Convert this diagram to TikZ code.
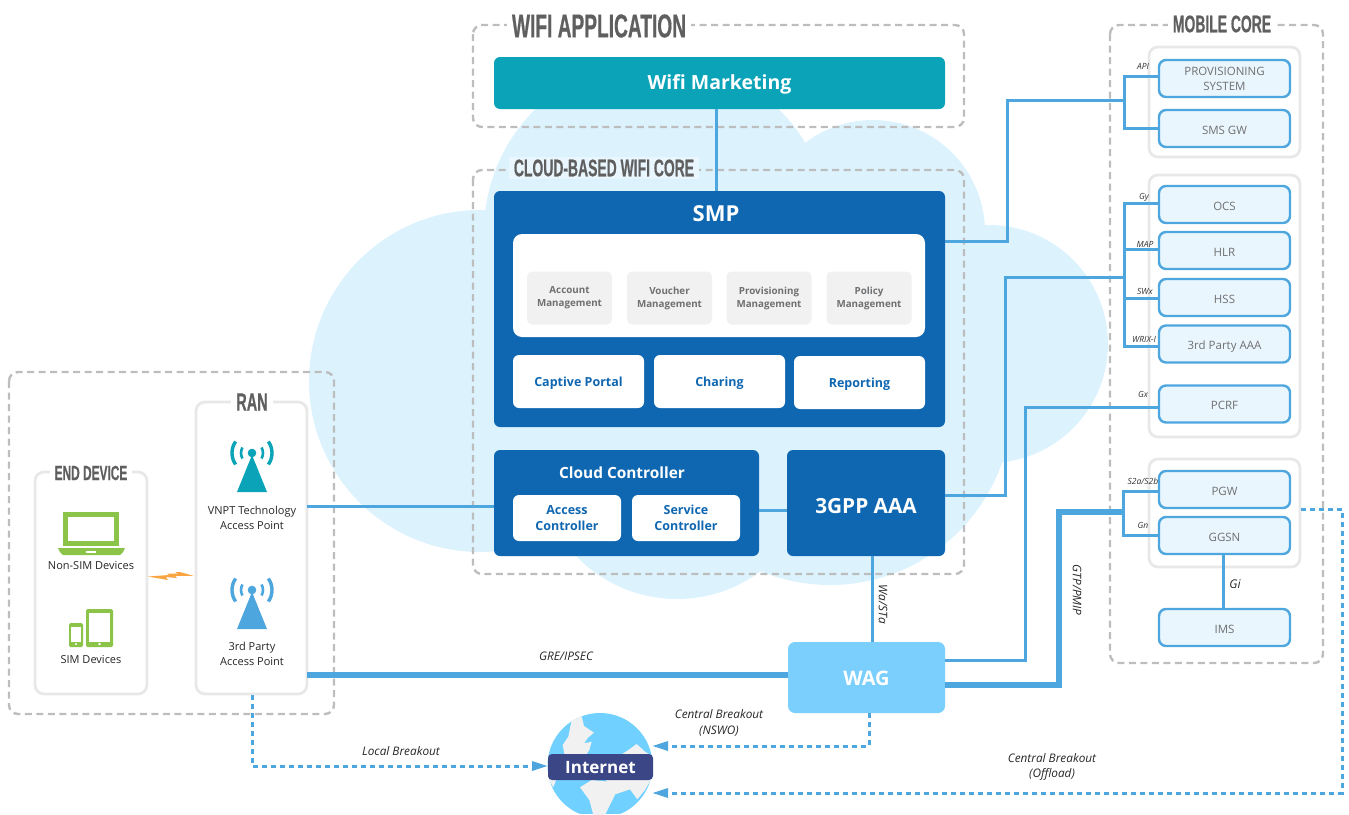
\documentclass[tikz,border=0pt]{standalone}
\usepackage{fontspec}
\setmainfont{Open Sans}
\newfontfamily\headfont[FakeStretch=0.58,FakeBold=0.5]{Liberation Sans}
\usetikzlibrary{arrows.meta}
\definecolor{cloudblue}{HTML}{DCF3FE}
\definecolor{dashgrey}{HTML}{BDBDBD}
\definecolor{framegrey}{HTML}{E8E8E8}
\definecolor{headgrey}{HTML}{5F5F5F}
\definecolor{textgrey}{HTML}{6F7072}
\definecolor{tealbar}{HTML}{0AA3B8}
\definecolor{smpblue}{HTML}{0F67B1}
\definecolor{linkblue}{HTML}{4DA6DE}
\definecolor{wagblue}{HTML}{7ACFFC}
\definecolor{paleblue}{HTML}{EAF6FD}
\definecolor{chipgrey}{HTML}{F1F1F1}
\definecolor{devgreen}{HTML}{8CC44A}
\definecolor{boltorange}{HTML}{F9A440}
\definecolor{globeblue}{HTML}{70D0FF}
\definecolor{inetblue}{HTML}{3B4686}
\begin{document}
\begin{tikzpicture}[
	x = 1pt, y = -1pt,
	every node/.style = {inner sep = 0, outer sep = 0, align = center},
	dashframe/.style = {draw = dashgrey, line width = 2.4, dash pattern = on 7pt off 4.5pt, rounded corners = 9},
	greyframe/.style = {draw = framegrey, line width = 2.8, fill = white, rounded corners = 9},
	headlabel/.style = {fill = white, text = headgrey, font = \headfont\bfseries\fontsize{#1}{#1}\selectfont, inner xsep = 5},
	oneline/.style = {text height = #1, text depth = 0},
	bluebox/.style = {fill = smpblue, text = white, rounded corners = 6},
	whitebox/.style = {fill = white, text = smpblue, rounded corners = 6, font = \bfseries\fontsize{12.5}{15.5}\selectfont},
	chip/.style = {fill = chipgrey, text = textgrey, rounded corners = 5, minimum width = 85, minimum height = 53, font = \bfseries\fontsize{9.8}{13}\selectfont},
	corebox/.style = {draw = linkblue, line width = 2.4, fill = paleblue, text = textgrey, rounded corners = 7, minimum width = 131, minimum height = 37, font = \fontsize{11.5}{15}\selectfont},
	link/.style = {draw = linkblue, line width = 3},
	thicklink/.style = {draw = linkblue, line width = 5.5},
	breakout/.style = {draw = linkblue, line width = 3, dash pattern = on 5pt off 4pt},
	breakarrow/.style = {breakout, -{Triangle[length = 16pt, width = 9pt]}},
	iface/.style = {font = \itshape\fontsize{8.5}{10}\selectfont, text = black!80},
	protolabel/.style = {font = \itshape\fontsize{11.8}{15.5}\selectfont, text = black!85},
	devlabel/.style = {font = \fontsize{11}{15}\selectfont, text = black!85}]

	\useasboundingbox (0,0) rectangle (1349,814);

	% cloud behind everything
	\foreach \cx/\cy/\cr in {657/232/173,873/232/112,989/344/119,480/381/171,677/459/140,830/403/182}{
		\fill[cloudblue] (\cx,\cy) circle[radius = \cr];
	}
	\fill[cloudblue] (480,210) rectangle (970,460);

	% outer frames
	\draw[dashframe] (473,25) rectangle (964,127);
	\draw[dashframe] (473,170) rectangle (964,574);
	\draw[dashframe] (1110,25) rectangle (1323,663);
	\draw[dashframe] (9,372) rectangle (334,714);
	\node[headlabel = 33] (wifititle) at (599,26) {WIFI APPLICATION};
	\node[headlabel = 24, fill = paleblue, inner ysep = 3] (coretitle) at (604,168) {CLOUD-BASED WIFI CORE};
	\node[headlabel = 24] (mobiletitle) at (1222,24) {MOBILE CORE};

	\draw[greyframe] (1149,47) rectangle (1300,157);
	\draw[greyframe] (1149,175) rectangle (1300,437);
	\draw[greyframe] (1149,459) rectangle (1300,567);
	\draw[greyframe] (196,402) rectangle (307,694);
	\draw[greyframe] (35,472) rectangle (147,694);
	\node[headlabel = 25] (rantitle) at (252,402) {RAN};
	\node[headlabel = 20.5] (endtitle) at (91,473) {END DEVICE};

	% wifi application and cloud core
	\node[fill = tealbar, text = white, rounded corners = 6, minimum width = 451, minimum height = 52, oneline = 12, font = \bfseries\fontsize{19.5}{24}\selectfont] (wifimkt) at (719.5,83) {Wifi Marketing};
	\node[bluebox, minimum width = 451, minimum height = 236] (smp) at (719.5,309) {};
	\node[text = white, font = \bfseries\fontsize{22}{26}\selectfont] (smptitle) at (716,214) {SMP};
	\node[fill = white, rounded corners = 9, minimum width = 412, minimum height = 103] (smpinner) at (719,285.5) {};
	\node[chip] (account) at (569.5,298) {Account\\Management};
	\node[chip] (voucher) at (669.5,298) {Voucher\\Management};
	\node[chip] (provision) at (769,298) {Provisioning\\Management};
	\node[chip] (policy) at (869,298) {Policy\\Management};
	\node[whitebox, minimum width = 131, minimum height = 53, oneline = 10] (captive) at (578.5,381.5) {Captive Portal};
	\node[whitebox, minimum width = 131, minimum height = 53, oneline = 10] (charing) at (719.5,381.5) {Charing};
	\node[whitebox, minimum width = 131, minimum height = 53, oneline = 10] (reporting) at (859.5,382.5) {Reporting};

	\node[bluebox, minimum width = 265, minimum height = 106] (controller) at (626.5,503) {};
	\node[text = white, font = \bfseries\fontsize{15.4}{18}\selectfont] (ctrltitle) at (622,472.5) {Cloud Controller};
	\node[whitebox, minimum width = 108, minimum height = 46] (access) at (567,518) {Access\\Controller};
	\node[whitebox, minimum width = 108, minimum height = 46] (service) at (686,518) {Service\\Controller};
	\node[bluebox, minimum width = 158, minimum height = 106, oneline = 20, font = \bfseries\fontsize{20.8}{24}\selectfont] (aaa) at (866,503) {3GPP AAA};
	\node[fill = wagblue, text = white, rounded corners = 7, minimum width = 157, minimum height = 71, oneline = 15, font = \bfseries\fontsize{20}{24}\selectfont] (wag) at (866.5,677.5) {WAG};

	% mobile core
	\node[corebox] (prov) at (1224.5,78.5) {\raisebox{-1.3pt}{PROVISIONING}\\\raisebox{-1.3pt}{SYSTEM}};
	\node[corebox, oneline = 11] (smsgw) at (1224.5,128.5) {SMS GW};
	\node[corebox, oneline = 11] (ocs) at (1224.5,204.5) {OCS};
	\node[corebox, oneline = 11] (hlr) at (1224.5,250.5) {HLR};
	\node[corebox, oneline = 11] (hss) at (1224.5,297.5) {HSS};
	\node[corebox, oneline = 11] (thirdaaa) at (1224.5,344) {3rd Party AAA};
	\node[corebox, oneline = 11] (pcrf) at (1224.5,404) {PCRF};
	\node[corebox, oneline = 11] (pgw) at (1224.5,489.5) {PGW};
	\node[corebox, oneline = 11] (ggsn) at (1224.5,535.5) {GGSN};
	\node[corebox, oneline = 11] (ims) at (1224.5,627.5) {IMS};

	% access points and devices
	\foreach \apx/\apy/\apcol in {252/453/tealbar,252/590/linkblue}{
		\fill[\apcol] (\apx,\apy) circle[radius = 4.3];
		\fill[\apcol] (\apx,\apy+2) -- (\apx+15,\apy+39) -- (\apx-15,\apy+39) -- cycle;
		\draw[\apcol,line width = 2.6] (\apx,\apy) ++(150:11) arc[start angle = 150, end angle = 210, radius = 11];
		\draw[\apcol,line width = 2.6] (\apx,\apy) ++(-30:11) arc[start angle = -30, end angle = 30, radius = 11];
		\draw[\apcol,line width = 3.4] (\apx,\apy) ++(145:20) arc[start angle = 145, end angle = 215, radius = 20];
		\draw[\apcol,line width = 3.4] (\apx,\apy) ++(-35:20) arc[start angle = -35, end angle = 35, radius = 20];
	}
	\node[devlabel] (vnptap) at (252,518) {VNPT Technology\\Access Point};
	\node[devlabel] (thirdap) at (252,654) {3rd Party\\Access Point};

	\fill[devgreen] (63,512) rectangle (119,546);
	\fill[white] (68,517) rectangle (114,541);
	\fill[devgreen] (58,548) -- (125,548) -- (123,552) -- (120,555) -- (63,555) -- (60,552) -- cycle;
	\fill[white] (86,550.5) rectangle (96,552.5);
	\node[devlabel] (nonsim) at (91,566) {Non-SIM Devices};
	\fill[devgreen,rounded corners = 1.5] (86,609) rectangle (113,647);
	\fill[white] (89,612.5) rectangle (110,641.5);
	\fill[white] (99.5,644) circle[radius = 1.3];
	\fill[devgreen,rounded corners = 1.5] (69,623) rectangle (83,647);
	\fill[white] (71,626.5) rectangle (81,641.5);
	\fill[white] (76,644) circle[radius = 1.1];
	\node[devlabel] (simdev) at (91,660) {SIM Devices};
	\fill[boltorange] (148,576.5) -- (169,575) -- (167,573.5) -- (178,573.5) -- (175,572) -- (180,572) -- (194,576) -- (175,575.8) -- (177,578) -- (166,577) -- (168,580) -- cycle;

	% internet
	\begin{scope}
		\clip (600,765.5) circle[radius = 52.5];
		\fill[globeblue] (547,713) rectangle (653,814);
		\begin{scope}[shift = {(530,700)}, scale = 0.3333]
			\fill[chipgrey] (125,60) -- (155,48) -- (162,78) -- (192,98) -- (175,112) -- (162,130) -- (185,125) -- (178,150) -- (165,170) -- (105,170) -- (98,135) -- (115,110) -- cycle;
			\fill[chipgrey] (272,165) -- (295,150) -- (320,132) -- (345,155) -- (370,170) -- (370,180) -- (272,180) -- cycle;
			\fill[chipgrey] (55,235) -- (80,235) -- (70,262) -- cycle;
			\fill[chipgrey] (150,262) -- (185,240) -- (235,245) -- (255,285) -- (225,345) -- (190,345) -- (178,300) -- cycle;
			\fill[chipgrey] (225,235) -- (365,235) -- (345,270) -- (322,298) -- (300,268) -- (250,285) -- cycle;
		\end{scope}
	\end{scope}
	\node[fill = inetblue, text = white, rounded corners = 4, minimum width = 105, minimum height = 26, oneline = 13, font = \bfseries\fontsize{17}{20}\selectfont] (internet) at (600.5,767) {Internet};

	% connectors
	\draw[link] (wifimkt.south -| smptitle) -- (smp.north -| smptitle);

	\coordinate (apijoin) at (1124,100);
	\draw[link] (smp.east |- 0,241) -- (1007,241) -- (1007,100) -- (apijoin);
	\draw[link] (prov.west |- 0,76) -- (1124,76) -- (1124,128) -- (smsgw.west |- 0,128);

	\coordinate (gyjoin) at (1124,277);
	\draw[link] (aaa.east |- 0,495) -- (1005,495) -- (1005,277) -- (gyjoin);
	\draw[link] (ocs.west |- 0,203) -- (1124,203) -- (1124,346) -- (thirdaaa.west |- 0,346);
	\draw[link] (1124,249) -- (hlr.west |- 0,249);
	\draw[link] (1124,298) -- (hss.west |- 0,298);

	\draw[link] (wag.east |- 0,660) -- (1025,660) -- (1025,407) -- (pcrf.west |- 0,407);

	\coordinate (gtpjoin) at (1123,512);
	\draw[thicklink] (wag.east |- 0,685) -- (1059,685) -- (1059,512) -- (gtpjoin);
	\draw[link] (pgw.west |- 0,491) -- (1123,491) -- (1123,535) -- (ggsn.west |- 0,535);
	\draw[link] (ggsn.south -| 1223,0) -- (ims.north -| 1223,0);

	\draw[link] (307,506) -- (controller.west |- 0,506);
	\draw[link] (controller.east |- 0,510) -- (aaa.west |- 0,510);
	\draw[link] (aaa.south -| 872,0) -- (wag.north -| 872,0);
	\draw[thicklink] (307,675) -- (wag.west |- 0,675);

	\draw[breakarrow] (252,695) -- (252,766) -- (internet.west |- 0,766);
	\draw[breakarrow] (wag.south -| 869,0) -- (869,746) -- (652,746);
	\draw[breakarrow] (1301,509) -- (1342,509) -- (1342,793) -- (652,793);

	% labels on the connectors
	\node[iface] (apilabel) at (1143,66) {API};
	\node[iface] (gylabel) at (1144,197) {Gy};
	\node[iface] (maplabel) at (1145,244) {MAP};
	\node[iface] (swxlabel) at (1145,291) {SWx};
	\node[iface] (wrixlabel) at (1144,339) {WRIX-I};
	\node[iface] (gxlabel) at (1143,394) {Gx};
	\node[iface] (s2label) at (1143,481) {S2a/S2b};
	\node[iface] (gnlabel) at (1143,525) {Gn};
	\node[protolabel, font = \itshape\fontsize{12}{14}\selectfont] (gilabel) at (1235,584) {Gi};
	\node[protolabel, rotate = -90] (wastalabel) at (883,604) {Wa/STa};
	\node[protolabel, rotate = -90] (gtplabel) at (1077,590) {GTP/PMIP};
	\node[protolabel] (grelabel) at (566,656) {GRE/IPSEC};
	\node[protolabel] (nswolabel) at (719,723) {Central Breakout\\(NSWO)};
	\node[protolabel] (locallabel) at (401,751) {Local Breakout};
	\node[protolabel] (offloadlabel) at (1052,767) {Central Breakout\\(Offload)};

\end{tikzpicture}
\end{document}
